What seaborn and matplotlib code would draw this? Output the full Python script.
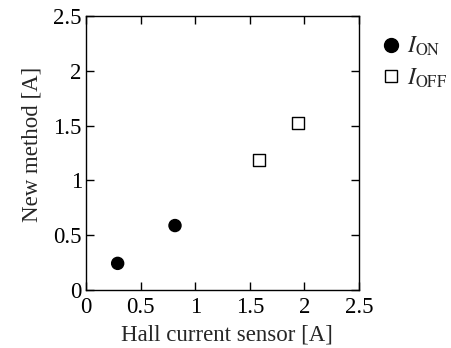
import matplotlib
matplotlib.use("Agg")
import matplotlib.pyplot as plt
import seaborn as sns
import pandas as pd

sns.set_theme(style="ticks")
plt.rcParams['font.family'] = ['Liberation Serif', 'DejaVu Serif']
plt.rcParams['mathtext.fontset'] = 'stix'

hall_on = [0.29, 0.815]
new_on = [0.243, 0.588]
hall_off = [1.58, 1.944]
new_off = [1.183, 1.527]
labels = [r'$I_{\rm ON}$', r'$I_{\rm OFF}$']
ticks = [0, 0.5, 1, 1.5, 2, 2.5]
tick_labels = ['0', '0.5', '1', '1.5', '2', '2.5']

df = pd.DataFrame({
    'hall': hall_on + hall_off,
    'new': new_on + new_off,
    'series': [labels[0]] * len(hall_on) + [labels[1]] * len(hall_off),
})

FS = 16.5

fig = plt.figure(figsize=(4.51, 3.48), dpi=100)
ax = fig.add_axes([86/451, 1 - 290/348, (359-86)/451, (290-16)/348])

sns.scatterplot(data=df, x='hall', y='new', hue='series', style='series',
                markers={labels[0]: 'o', labels[1]: 's'},
                palette={labels[0]: 'black', labels[1]: 'white'},
                edgecolor='black', linewidth=1.0, s=75, ax=ax, legend=True)

ax.set_xlim(0, 2.5)
ax.set_ylim(0, 2.5)
ax.set_xticks(ticks)
ax.set_xticklabels(tick_labels)
ax.set_yticks(ticks)
ax.set_yticklabels(tick_labels)
ax.tick_params(direction='in', length=6, width=1, top=True, right=True,
               labelsize=FS, colors='black')
ax.tick_params(axis='x', pad=5)
ax.tick_params(axis='y', pad=3)
for sp in ax.spines.values():
    sp.set_linewidth(1.0)
    sp.set_color('black')
ax.set_xlabel('Hall current sensor [A]', fontsize=FS, labelpad=5)
ax.set_ylabel('New method [A]', fontsize=FS, labelpad=8)
ax.xaxis.label.set_x(0.516)
ax.yaxis.label.set_y(0.533)

handles, lbls = ax.get_legend_handles_labels()
for h, m in zip(handles, [10, 8.5]):
    try:
        h.set_markersize(m)
        h.set_markeredgecolor('black')
    except AttributeError:
        pass
leg = ax.legend(handles, lbls, loc='upper left', bbox_to_anchor=(1.04, 0.965),
                frameon=False, fontsize=FS + 0.5, handletextpad=0.15,
                borderaxespad=0, labelspacing=0.35, handlelength=1.0)

fig.savefig('out.png', dpi=100)
